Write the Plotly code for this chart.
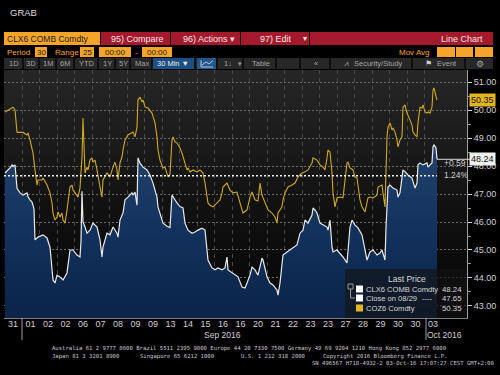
import base64
import plotly.graph_objects as go

# ---------------- data ----------------
tick_labels = ["31", "01", "02", "02", "06", "07", "08", "09", "09", "13", "14", "15", "16",
               "16", "20", "21", "22", "23", "23", "27", "28", "29", "30", "30", "03"]
y_ticks = [43, 44, 45, 46, 47, 48, 49, 50, 51]

clx6_bar = [0, 3, 5, 7, 8, 10, 11, 12, 15, 18, 22, 23, 25, 27, 28, 29, 30, 33, 38, 42, 45, 47, 48, 50,
            52, 55, 58, 62, 63, 65, 68, 72, 75, 76, 77, 78, 80, 82, 85, 88, 92, 95, 97, 98, 102, 105,
            108, 112, 113, 115, 118, 120, 123, 127, 128, 130, 132, 133, 135, 138, 142, 145, 148, 150,
            152, 153, 155, 158, 162, 165, 167, 168, 172, 175, 178, 180, 183, 187, 190, 193, 197, 200,
            202, 203, 207, 210, 213, 217, 220, 222, 223, 227, 230, 233, 237, 240, 242, 245, 247, 250,
            253, 257, 258, 262, 265, 268, 272, 273, 275, 277, 278, 282, 285, 288, 292, 295, 298, 300,
            303, 307, 308, 310, 312, 315, 318, 322, 323, 325, 327, 328, 332, 335, 338, 342, 345, 347,
            350, 353, 357, 360, 362, 365, 368, 372, 375, 377, 380, 381, 383, 385, 388, 392, 393, 395,
            397, 398, 400, 403, 407, 410, 412, 413, 415, 418, 422, 423, 427, 428, 429, 431, 432]
clx6_val = [47.75, 47.85, 47.93, 48.04, 47.98, 48.04, 47.60, 47.20, 47.04, 46.96, 47.04, 46.90, 46.79,
            46.71, 46.60, 46.45, 45.36, 45.46, 45.54, 45.43, 45.10, 44.29, 43.93, 43.82, 44.10, 44.04,
            43.93, 44.18, 44.40, 45.00, 45.00, 44.82, 44.75, 45.30, 47.10, 46.00, 45.82, 45.60, 45.71,
            45.96, 45.82, 45.36, 44.75, 45.10, 45.60, 45.54, 45.82, 45.60, 45.46, 46.07, 46.32, 46.79,
            46.89, 47.04, 46.96, 47.07, 46.60, 48.29, 48.10, 47.96, 47.86, 47.68, 47.39, 47.14, 46.89,
            46.54, 46.32, 45.96, 45.85, 45.80, 46.96, 46.90, 46.68, 46.55, 46.50, 45.96, 45.71, 45.60,
            45.64, 45.71, 45.78, 45.71, 45.10, 44.64, 44.36, 44.29, 44.36, 44.29, 44.36, 44.75, 44.29,
            44.18, 44.10, 44.04, 43.68, 43.64, 43.82, 44.10, 44.39, 44.29, 44.10, 44.71, 44.64, 44.04,
            43.82, 43.75, 43.57, 43.39, 43.82, 44.39, 44.82, 44.93, 45.00, 45.07, 45.18, 45.60, 45.71,
            46.07, 45.96, 46.25, 46.50, 46.43, 46.32, 45.96, 45.89, 45.82, 45.71, 46.07, 45.10, 44.93,
            45.00, 44.89, 44.75, 44.54, 45.82, 46.07, 45.89, 45.79, 45.54, 45.00, 44.64, 44.93, 45.00,
            44.82, 44.89, 45.00, 44.64, 45.80, 47.25, 47.32, 47.21, 47.14, 46.89, 47.04, 47.61, 47.86,
            47.80, 47.68, 47.57, 47.21, 47.39, 48.04, 48.11, 48.04, 48.11, 47.96, 48.11, 48.68, 48.75,
            48.65, 48.24]

coz6_bar = [0, 3, 7, 8, 10, 11, 12, 15, 18, 22, 23, 25, 27, 28, 30, 32, 33, 37, 38, 42, 45, 47, 48, 50,
            52, 53, 55, 57, 58, 60, 62, 63, 65, 67, 68, 70, 72, 73, 75, 77, 78, 79, 80, 82, 83, 85, 87,
            88, 90, 92, 93, 95, 97, 98, 102, 105, 108, 110, 112, 113, 115, 117, 118, 120, 123, 127, 128,
            130, 132, 133, 135, 137, 138, 140, 143, 147, 150, 152, 153, 155, 157, 158, 160, 162, 163,
            165, 167, 168, 170, 172, 175, 177, 178, 180, 182, 183, 185, 188, 192, 195, 198, 200, 202,
            203, 205, 208, 212, 215, 217, 218, 222, 225, 228, 232, 235, 238, 242, 245, 247, 250, 253,
            255, 257, 260, 263, 267, 270, 272, 273, 277, 278, 280, 283, 287, 290, 293, 297, 300, 303,
            307, 308, 312, 315, 318, 320, 322, 323, 325, 327, 328, 330, 332, 335, 338, 342, 343, 345,
            348, 350, 352, 355, 357, 360, 363, 365, 368, 372, 373, 377, 378, 380, 382, 383, 385, 387,
            388, 390, 392, 393, 395, 397, 398, 400, 402, 403, 405, 407, 408, 410, 412, 413, 415, 417,
            418, 420, 422, 423, 425, 427, 428, 429, 431, 432]
coz6_val = [49.93, 50.00, 50.07, 50.10, 50.00, 49.60, 49.21, 49.20, 49.20, 49.11, 49.18, 48.93, 48.68,
            48.46, 47.86, 47.32, 47.50, 47.50, 47.57, 47.32, 47.04, 46.68, 46.32, 46.07, 46.18, 46.36,
            46.18, 46.32, 46.07, 45.96, 46.43, 46.79, 47.25, 47.32, 47.14, 47.04, 46.96, 46.89, 47.21,
            48.32, 49.71, 48.57, 47.75, 47.96, 47.86, 48.21, 48.29, 48.14, 48.21, 47.86, 47.61, 47.25,
            46.89, 47.50, 47.75, 47.61, 47.96, 48.14, 47.86, 47.50, 48.11, 48.32, 48.57, 48.93, 49.11,
            49.18, 49.21, 49.04, 49.39, 50.36, 50.46, 50.29, 50.36, 50.11, 50.07, 49.89, 49.54, 49.04,
            48.57, 48.21, 47.96, 47.93, 47.96, 47.75, 47.61, 47.70, 48.93, 49.04, 48.86, 48.82, 48.64,
            48.46, 48.32, 48.11, 47.86, 47.93, 47.79, 47.86, 47.79, 47.86, 47.75, 47.39, 46.89, 46.68,
            46.60, 46.54, 46.68, 46.79, 47.04, 47.25, 47.39, 47.14, 47.04, 47.07, 46.68, 46.32, 46.43,
            46.89, 47.07, 46.79, 46.75, 47.39, 46.96, 46.68, 46.43, 46.32, 46.18, 45.96, 46.32, 46.54,
            46.79, 47.04, 47.25, 47.32, 47.39, 47.61, 47.75, 47.79, 47.86, 48.11, 48.29, 48.21, 48.04,
            47.96, 47.86, 48.29, 48.57, 48.50, 47.75, 47.04, 46.54, 46.86, 46.89, 46.86, 48.11, 48.14,
            47.93, 47.86, 47.61, 47.57, 46.79, 46.54, 46.36, 46.86, 46.89, 46.86, 46.96, 47.25, 47.32,
            47.04, 46.54, 49.04, 49.39, 49.54, 49.29, 49.36, 49.21, 48.93, 48.68, 48.93, 49.04, 50.10,
            50.18, 49.89, 49.82, 49.64, 49.46, 49.21, 49.11, 49.04, 49.54, 50.10, 50.07, 50.18, 49.93,
            49.89, 49.93, 49.89, 50.10, 50.71, 50.79, 50.54, 50.35]

close_0829 = 47.65
clx6_name = "CLX6 COMB Comdty"
coz6_name = "COZ6 Comdty"
close_name = "Close on 08/29"

# ---------------- geometry helpers (pixel -> paper) ----------------
L, R, T, B = 4, 467, 70, 318
W, H = R - L, B - T
X_RANGE = [-1, 462]
Y_RANGE = [42.571, 51.429]


def X(px):
    return (px - L) / W


def Y(py):
    return (B - py) / H


def bar_to_paper(b):
    return (b - X_RANGE[0]) / (X_RANGE[1] - X_RANGE[0])


FONT = "Liberation Sans, Arial, sans-serif"
MONO = "DejaVu Sans Mono, Liberation Mono, monospace"
shapes, anns = [], []


def rect(x0, y0, x1, y1, color, lw=0, lc=None):
    shapes.append(dict(type="rect", xref="paper", yref="paper", x0=X(x0), x1=X(x1),
                       y0=Y(y1), y1=Y(y0), fillcolor=color,
                       line=dict(width=lw, color=lc or color), layer="above"))


def seg(x0, y0, x1, y1, color, w=1, dash="solid"):
    shapes.append(dict(type="line", xref="paper", yref="paper", x0=X(x0), x1=X(x1),
                       y0=Y(y0), y1=Y(y1), line=dict(color=color, width=w, dash=dash),
                       layer="above"))


def txt(px, py, s, size=8.5, color="#cfcfcf", anchor="left", family=FONT):
    anns.append(dict(x=X(px), y=Y(py), xref="paper", yref="paper", text=s, showarrow=False,
                     xanchor=anchor, yanchor="middle", borderpad=0,
                     font=dict(size=size, color=color, family=family)))


# ---------------- figure ----------------
fig = go.Figure()

fig.add_trace(go.Scatter(
    x=clx6_bar, y=clx6_val, mode="lines", name=clx6_name,
    line=dict(color="#e9e9e9", width=1.2),
    fill="tozeroy",
    fillgradient=dict(type="vertical", start=Y_RANGE[0], stop=48.8,
                      colorscale=[[0, "#0c2447"], [0.45, "#11305b"], [1, "#22426f"]]),
    hoverinfo="skip", showlegend=False))

fig.add_trace(go.Scatter(
    x=coz6_bar, y=coz6_val, mode="lines", name=coz6_name,
    line=dict(color="#d0aa1e", width=1.1), hoverinfo="skip", showlegend=False))

last_bar = clx6_bar[-1]
clx6_last = clx6_val[-1]
coz6_last = coz6_val[-1]
chg = clx6_last - close_0829
pct = chg / close_0829 * 100

# close reference line
shapes.append(dict(type="line", xref="paper", yref="y", x0=0, x1=bar_to_paper(last_bar),
                   y0=close_0829, y1=close_0829,
                   line=dict(color="#f2f2f2", width=1.5, dash="2px,2px"), layer="above"))
# connector from last price to its label
shapes.append(dict(type="line", xref="paper", yref="y", x0=bar_to_paper(last_bar), x1=X(470),
                   y0=clx6_last, y1=clx6_last, line=dict(color="#dddddd", width=1),
                   layer="above"))

anns.append(dict(x=X(469), xref="paper", y=clx6_last, yref="y", text=f"{clx6_last:.2f}",
                 showarrow=False, xanchor="left", yanchor="middle", bgcolor="#f0f0f0",
                 borderpad=1, font=dict(size=9, color="#111111", family=FONT)))
anns.append(dict(x=X(469), xref="paper", y=coz6_last, yref="y", text=f"{coz6_last:.2f}",
                 showarrow=False, xanchor="left", yanchor="middle", bgcolor="#e3b61f",
                 borderpad=1, font=dict(size=9, color="#111111", family=FONT)))
txt(443, 163, f"+{chg:.2f}", 8.5, "#cfcfcf")
txt(443, 175, f"{pct:.2f}%", 8.5, "#cfcfcf")

# ---------------- legend box ----------------
rect(345, 269, 467, 318, "rgba(20,20,20,0.62)")
txt(407, 279, "Last Price", 8.5, "#d6d6d6", "center")
rows = [(289, "#ffffff", clx6_name, f"{clx6_last:.2f}"),
        (298, "#ffffff", close_name, f"{close_0829:.2f}"),
        (308, "#e3b61f", coz6_name, f"{coz6_last:.2f}")]
for py, col, name, val in rows:
    rect(356, py - 3.5, 363, py + 3.5, col)
    txt(365, py, name, 7.6, "#d6d6d6")
    txt(463, py, val, 7.8, "#d6d6d6", "right")
txt(421, 298, "----", 7.6, "#d6d6d6")
rect(348, 284, 353, 289, "rgba(0,0,0,0)", 1, "#9a9a9a")
seg(350.5, 289, 350.5, 298, "#9a9a9a")
seg(350.5, 298, 355, 298, "#9a9a9a")

# ---------------- bottom: month labels, separators, footer ----------------
seg(22, 318, 22, 340, "#a0a0a0")
seg(426, 318, 426, 340, "#a0a0a0")
txt(222, 335, "Sep 2016", 8.5, "#cfcfcf", "center")
txt(444, 335, "Oct 2016", 8.5, "#cfcfcf", "center")

fs = 5.6
fc = "#c8c8c8"
txt(51, 348, "Australia 61 2 9777 8600 Brazil 5511 2395 9000 Europe 44 20 7330 7500 "
    "Germany 49 69 9204 1210 Hong Kong 852 2977 6000", fs, fc, "left", MONO)
txt(51, 356, "Japan 81 3 3201 8900", fs, fc, "left", MONO)
txt(139, 356, "Singapore 65 6212 1000", fs, fc, "left", MONO)
txt(240, 356, "U.S. 1 212 318 2000", fs, fc, "left", MONO)
txt(322, 356, "Copyright 2016 Bloomberg Finance L.P.", fs, fc, "left", MONO)
txt(495, 363, "SN 496567 H718-4932-2 03-Oct-16 17:07:27 CEST GMT+2:00", fs, fc, "right", MONO)

# ---------------- top chrome ----------------
txt(9, 12, "GRAB", 9.5, "#dcdcdc")

ORANGE = "#f6a52a"
RED = "#a5192d"
rect(4, 32, 100, 45, ORANGE)
txt(6, 38.5, "CLX6 COMB Comdty", 8.5, "#1a1a1a")
for a, b in [(101, 170), (171, 240), (241, 309), (310, 493)]:
    rect(a, 32, b, 45, RED)
txt(137, 38.5, "95) Compare", 9, "#f3e3e3", "center")
txt(209, 38.5, "96) Actions ▾", 9, "#f3e3e3", "center")
txt(259, 38.5, "97) Edit", 9, "#f3e3e3", "left")
txt(305, 38.5, "▾", 8, "#f3e3e3", "center")
txt(484, 38.5, "Line Chart", 9, "#f3e3e3", "right")

txt(6, 52, "Period", 8, ORANGE)
rect(35, 47, 47, 57, ORANGE)
txt(41, 52, "30", 8, "#1a1a1a", "center")
txt(54, 52, "Range", 8, ORANGE)
rect(80, 47, 94, 57, ORANGE)
txt(87, 52, "25", 8, "#1a1a1a", "center")
rect(99, 47, 131, 57, ORANGE)
txt(115, 52, "00:00", 8, "#1a1a1a", "center")
txt(136.5, 52, "-", 8, ORANGE, "center")
rect(142, 47, 172, 57, ORANGE)
txt(157, 52, "00:00", 8, "#1a1a1a", "center")
txt(431, 52, "Mov Avg", 8, ORANGE, "right")
for a, b in [(437, 455), (456, 473), (475, 493)]:
    rect(a, 47, b, 57, ORANGE)

rect(4, 58, 493, 69, "#272727")
for sx in [23, 39, 56, 74, 98, 115, 130, 152, 195, 217, 243, 276, 300, 330, 412, 465]:
    seg(sx, 58, sx, 69, "#000000", 1.2)
rect(153, 58, 194, 69, "#1d4f82")
rect(197, 58, 216, 69, "#22578c")
BT = "#a2a2a2"
for cx, s in [(14, "1D"), (31, "3D"), (48, "1M"), (65, "6M"), (87, "YTD"), (107, "1Y"),
              (123, "5Y"), (142, "Max"), (261, "Table"), (316, "«")]:
    txt(cx, 63.5, s, 7.5, BT, "center")
txt(173, 63.5, "30 Min ▼", 7.5, "#e8eef5", "center")
seg(201, 60.5, 201, 67, "#b8c8dc", 1)
seg(201, 67, 213, 67, "#b8c8dc", 1)
seg(202, 65, 206, 62, "#b8c8dc", 1)
seg(206, 62, 209, 64, "#b8c8dc", 1)
seg(209, 64, 213, 60.5, "#b8c8dc", 1)
txt(228, 63.5, "1↓", 7.5, BT, "center")
txt(240, 63.5, "▾", 7, BT, "center")
txt(346, 63.5, "⩘", 7.5, BT, "center")
txt(378, 63.5, "Security/Study", 7.5, BT, "center")
txt(428, 63.5, "⚑", 7.5, "#d0d0d0", "center")
txt(447, 63.5, "Event", 7.5, BT, "center")
txt(480, 63.5, "⚙", 8.5, BT, "center")

# ---------------- background gradient for the plot area ----------------
svg = ("<svg xmlns='http://www.w3.org/2000/svg' width='10' height='100' viewBox='0 0 10 100' "
       "preserveAspectRatio='none'><defs><linearGradient id='g' x1='0' y1='0' x2='0' y2='1'>"
       "<stop offset='0' stop-color='#262626'/><stop offset='0.55' stop-color='#111111'/>"
       "<stop offset='1' stop-color='#050505'/></linearGradient></defs>"
       "<rect width='10' height='100' fill='url(#g)'/></svg>")
bg_src = "data:image/svg+xml;base64," + base64.b64encode(svg.encode()).decode()

fig.update_layout(
    width=500, height=375,
    margin=dict(l=L, r=500 - R, t=T, b=375 - B, pad=0),
    paper_bgcolor="#000000", plot_bgcolor="rgba(0,0,0,0)",
    showlegend=False,
    images=[dict(source=bg_src, xref="paper", yref="paper", x=0, y=1, sizex=1, sizey=1,
                 sizing="stretch", xanchor="left", yanchor="top", layer="below")],
    xaxis=dict(range=X_RANGE, tickmode="array",
               tickvals=[8 + 17.5 * k for k in range(len(tick_labels))], ticktext=tick_labels,
               showgrid=False, ticks="", zeroline=False, showline=True, linecolor="#7c7c7c",
               linewidth=1, tickfont=dict(size=9, color="#cfcfcf", family=FONT),
               ticklabelstandoff=-3,
               minor=dict(tickmode="array", tickvals=[17 + 17.5 * k for k in range(24)],
                          showgrid=True, gridcolor="#484848", gridwidth=1, griddash="4px,4px",
                          ticks="")),
    yaxis=dict(range=Y_RANGE, side="right", tickmode="array", tickvals=y_ticks,
               ticktext=[f"{v:.2f}" for v in y_ticks], ticks="outside", ticklen=4,
               tickcolor="#cfcfcf", showline=True, linecolor="#a0a0a0", linewidth=1,
               showgrid=True, gridcolor="#6a6a6a", gridwidth=1, griddash="2px,2px",
               zeroline=False, tickfont=dict(size=9, color="#d0d0d0", family=FONT),
               minor=dict(tickmode="array", tickvals=[v + 0.5 for v in y_ticks[:-1]],
                          ticks="outside", ticklen=3, tickcolor="#9a9a9a", showgrid=False)),
    shapes=shapes, annotations=anns,
)

fig.write_html("out.html", config=dict(displayModeBar=False),
               post_script="document.body.style.margin='0px';"
                           "document.body.style.overflow='hidden';")
